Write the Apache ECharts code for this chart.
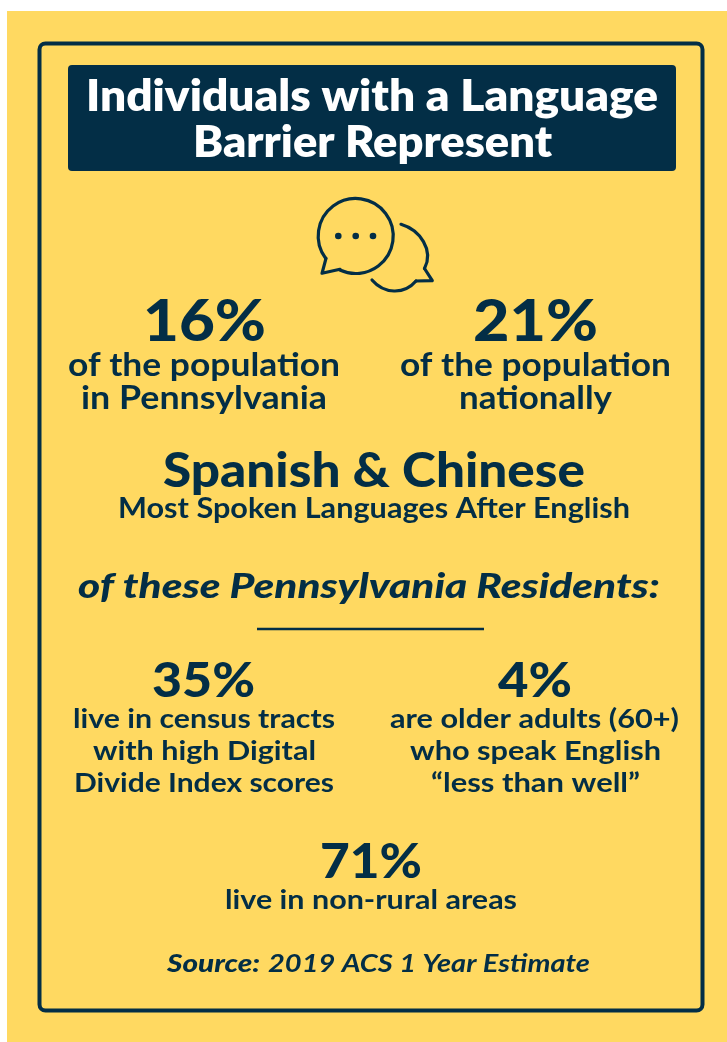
<!DOCTYPE html>
<html>
<head>
<meta charset="utf-8">
<title>Language Barrier</title>
<script src="https://cdn.jsdelivr.net/npm/echarts@6/dist/echarts.min.js"></script>
<style>
  html, body { margin: 0; padding: 0; background: #fff; }
  #main { width: 727px; height: 1042px; }
</style>
</head>
<body>
<div id="main"></div>
<script>
// text of the infographic
const titleLines = ['Individuals with a Language', 'Barrier Represent']
const sharePA = '16%'
const shareUS = '21%'
const sharePALabel = ['of the population', 'in Pennsylvania']
const shareUSLabel = ['of the population', 'nationally']
const languages = 'Spanish & Chinese'
const languagesNote = 'Most Spoken Languages After English'
const residentsHead = 'of these Pennsylvania Residents:'
const digitalShare = '35%'
const digitalLabel = ['live in census tracts', 'with high Digital', 'Divide Index scores']
const olderShare = '4%'
const olderLabel = ['are older adults (60+)', 'who speak English', '\u201cless than well\u201d']
const urbanShare = '71%'
const urbanLabel = ['live in non-rural areas']
const sourceKey = 'Source:'
const sourceText = '2019 ACS 1 Year Estimate'

const NAVY = '#032E46'
const YELLOW = '#FFD961'
const FONT = 'Lato'

const measure = document.createElement('canvas').getContext('2d')

// one line of text, squeezed so it spans left..right like the original font
function line (text, left, right, baseline, size, weight, opts) {
  opts = opts || {}
  const fontStyle = opts.italic ? 'italic' : 'normal'
  measure.font = fontStyle + ' ' + weight + ' ' + size + 'px ' + FONT
  const sx = (right - left) / measure.measureText(text).width
  return {
    type: 'text',
    x: (left + right) / 2,
    y: baseline - size * 0.34,
    scaleX: sx,
    silent: true,
    style: {
      text: text,
      fill: opts.color || NAVY,
      font: fontStyle + ' ' + weight + ' ' + size + 'px ' + FONT,
      align: 'center',
      verticalAlign: 'middle'
    }
  }
}

const icon = [
  { type: 'arc', shape: { cx: 355.7, cy: 236, r: 37.5, startAngle: 143 * Math.PI / 180, endAngle: 475 * Math.PI / 180, clockwise: true } },
  { type: 'polyline', shape: { points: [[326, 258.3], [322, 273.3], [340, 269.3]] } },
  { type: 'bezierCurve', shape: { x1: 401, y1: 224.3, cpx1: 420, cpy1: 230, cpx2: 434, cpy2: 250, x2: 424.5, y2: 268.5 } },
  { type: 'polyline', shape: { points: [[424.5, 268.5], [432.3, 280.7], [416, 281]] } },
  { type: 'bezierCurve', shape: { x1: 416, y1: 281, cpx1: 404, cpy1: 295, cpx2: 384, cpy2: 294, x2: 372, y2: 280 } }
].map(function (el) {
  el.silent = true
  el.style = { fill: null, stroke: NAVY, lineWidth: 3.2, lineCap: 'round', lineJoin: 'round' }
  return el
})

const dots = [338.3, 355.7, 373].map(function (cx) {
  return { type: 'circle', silent: true, shape: { cx: cx, cy: 236, r: 3.3 }, style: { fill: NAVY } }
})

const texts = [
  line(titleLines[0], 86, 658, 112, 43, 800, { color: '#fff' }),
  line(titleLines[1], 193, 552, 158, 43, 800, { color: '#fff' }),
  line(sharePA, 143, 266, 342, 58, 900),
  line(shareUS, 473, 598, 342, 58, 900),
  line(sharePALabel[0], 68, 340, 377, 33, 700),
  line(sharePALabel[1], 81, 327, 410, 33, 700),
  line(shareUSLabel[0], 400, 671, 377, 33, 700),
  line(shareUSLabel[1], 459, 612, 410, 33, 700),
  line(languages, 163, 585, 488, 47, 900),
  line(languagesNote, 118, 630, 518, 28, 700),
  line(residentsHead, 78, 660, 599, 34, 900, { italic: true }),
  line(digitalShare, 152, 255, 698, 48, 900),
  line(olderShare, 498, 572, 698, 48, 900),
  line(digitalLabel[0], 73, 335, 728, 27, 700),
  line(digitalLabel[1], 93, 316, 760, 27, 700),
  line(digitalLabel[2], 74, 334, 792, 27, 700),
  line(olderLabel[0], 390, 679, 728, 27, 700),
  line(olderLabel[1], 410, 661, 760, 27, 700),
  line(olderLabel[2], 431, 640, 792, 27, 700),
  line(urbanShare, 320, 422, 879, 48, 900),
  line(urbanLabel[0], 225, 517, 909, 27, 700),
  line(sourceKey, 167, 260, 972, 25, 900, { italic: true }),
  line(sourceText, 268, 590, 972, 25, 700, { italic: true })
]

const myChart = echarts.init(document.getElementById('main'), null, { renderer: 'canvas' })
myChart.setOption({
  animation: false,
  backgroundColor: '#fff',
  graphic: {
    elements: [
      { type: 'rect', silent: true, shape: { x: 7, y: 11, width: 720, height: 1031 }, style: { fill: YELLOW } },
      { type: 'rect', silent: true, shape: { x: 39.5, y: 43.5, width: 663, height: 967, r: 6 }, style: { fill: null, stroke: NAVY, lineWidth: 4 } },
      { type: 'rect', silent: true, shape: { x: 68, y: 65, width: 608, height: 106, r: 4 }, style: { fill: NAVY } },
      { type: 'line', silent: true, shape: { x1: 257, y1: 629, x2: 484, y2: 629 }, style: { stroke: NAVY, lineWidth: 2.5 } }
    ].concat(icon, dots, texts)
  }
})
</script>
</body>
</html>
